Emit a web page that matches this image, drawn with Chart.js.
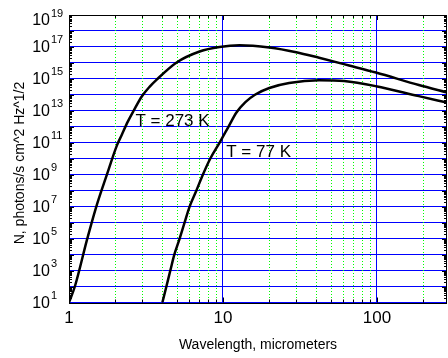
<!DOCTYPE html>
<html>
<head>
<meta charset="utf-8">
<script src="https://cdn.jsdelivr.net/npm/chart.js@4/dist/chart.umd.min.js"></script>
<style>
  html, body { margin: 0; padding: 0; background: #fff; }
  #wrap { width: 448px; height: 358px; position: relative; }
</style>
</head>
<body>
<div id="wrap"><canvas id="chart1"></canvas></div>
<script>
// wavelength (micrometers) and N
const lam273 = [1.0, 1.094, 1.308, 1.496, 1.762, 2.045, 2.203, 2.409, 2.634, 2.969, 3.345, 3.712, 5.0, 7.05, 9.49, 12.8, 20.0, 29.9, 42.1, 65.9, 98.5, 187, 285];
const n273 = [1e1, 1.08e2, 8.3e4, 8.5e6, 1e9, 6.6e10, 3.2e11, 2.1e12, 1.05e13, 7.9e13, 3.3e14, 9.1e14, 1.07e16, 5.2e16, 1.0e17, 1.29e17, 9.3e16, 4.7e16, 2.1e16, 6.9e15, 2.5e15, 4.1e14, 1.4e14];

const lam77 = [4.04, 4.29, 4.55, 4.83, 5.23, 5.63, 6.07, 6.71, 7.40, 8.26, 9.49, 10.85, 12.23, 13.98, 16.23, 20.0, 26.9, 42.1, 61.2, 98.5, 187, 285];
const n77 = [1e1, 1e2, 1e3, 1e4, 1e5, 1e6, 1e7, 1e8, 1e9, 1e10, 1e11, 1e12, 7.8e12, 3.5e13, 1.05e14, 2.7e14, 5.5e14, 8.1e14, 7.3e14, 3.5e14, 8.3e13, 3.3e13];

const xMajorTicks = [1, 10, 100];
const xTickLabels = ['1', '10', '100'];
const xMinorTicks = [2, 3, 4, 5, 6, 7, 8, 9, 20, 30, 40, 50, 60, 70, 80, 90, 200];
const yDecades = [1, 2, 3, 4, 5, 6, 7, 8, 9, 10, 11, 12, 13, 14, 15, 16, 17, 18, 19];
const yLabelExps = ['1', '3', '5', '7', '9', '11', '13', '15', '17', '19'];

const labels = [
    { text: 'T = 273 K', x: 2.7, y: 1.2e12 },
    { text: 'T = 77 K', x: 10.5, y: 1.3e10 }
];

const FONT = "'Liberation Sans', Arial, sans-serif";
const X_MIN = 1, X_MAX = 285;

function toPoints(xs, ys) {
    return xs.map((x, i) => ({ x: x, y: ys[i] }));
}

// green dotted minor grid on the x axis, under the curves
const minorGrid = {
    id: 'minorGrid',
    beforeDatasetsDraw(chart) {
        const ctx = chart.ctx;
        const a = chart.chartArea;
        const xs = chart.scales.x;
        ctx.save();
        ctx.strokeStyle = 'rgb(0,255,0)';
        ctx.lineWidth = 1;
        ctx.setLineDash([1, 2]);
        ctx.beginPath();
        xMinorTicks.forEach(v => {
            const px = Math.round(xs.getPixelForValue(v)) + 0.5;
            ctx.moveTo(px, a.top);
            ctx.lineTo(px, a.bottom);
        });
        ctx.stroke();
        ctx.restore();
    }
};

// draws the MATLAB style box, inward ticks and tick labels
const matlabAxes = {
    id: 'matlabAxes',
    afterDraw(chart) {
        const ctx = chart.ctx;
        const a = chart.chartArea;
        const xs = chart.scales.x;
        const ys = chart.scales.y;
        ctx.save();

        ctx.strokeStyle = '#000';
        ctx.lineWidth = 1;
        ctx.beginPath();
        // x ticks, top and bottom
        const xt = xMinorTicks.map(v => [v, 3]).concat([[10, 5], [100, 5]]);
        xt.forEach(([v, len]) => {
            const px = Math.round(xs.getPixelForValue(v)) + 0.5;
            ctx.moveTo(px, a.bottom); ctx.lineTo(px, a.bottom - len);
            ctx.moveTo(px, a.top); ctx.lineTo(px, a.top + len);
        });
        // y ticks, left and right
        yDecades.forEach(e => {
            if (e >= 19) return;
            for (let m = 1; m <= 9; m++) {
                const py = Math.round(ys.getPixelForValue(m * Math.pow(10, e))) + 0.5;
                const len = m === 1 ? 5 : 3;
                ctx.moveTo(a.left, py); ctx.lineTo(a.left + len, py);
                ctx.moveTo(a.right, py); ctx.lineTo(a.right - len, py);
            }
        });
        ctx.stroke();

        // box
        ctx.strokeRect(Math.round(a.left) + 0.5, Math.round(a.top) + 0.5,
            Math.round(a.right - a.left) - 1, Math.round(a.bottom - a.top));

        // x tick labels
        ctx.fillStyle = '#000';
        ctx.font = '17px ' + FONT;
        ctx.textAlign = 'center';
        ctx.textBaseline = 'middle';
        xMajorTicks.forEach((v, i) => {
            ctx.fillText(xTickLabels[i], xs.getPixelForValue(v), a.bottom + 16);
        });

        // y tick labels, 10 with raised exponent
        yLabelExps.forEach(ex => {
            const py = ys.getPixelForValue(Math.pow(10, Number(ex)));
            const cy = Math.max(py + 1, 21);
            ctx.font = '16px ' + FONT;
            ctx.textAlign = 'right';
            ctx.textBaseline = 'middle';
            ctx.fillText('10', 50, cy);
            ctx.font = '11px ' + FONT;
            ctx.textAlign = 'left';
            ctx.textBaseline = 'alphabetic';
            ctx.fillText(ex, 51, cy - 4.5);
        });

        // axis titles
        ctx.font = '14px ' + FONT;
        ctx.textAlign = 'center';
        ctx.textBaseline = 'middle';
        ctx.fillText('Wavelength, micrometers', (a.left + a.right) / 2, 345);
        ctx.save();
        ctx.translate(20, 163);
        ctx.rotate(-Math.PI / 2);
        ctx.fillText('N, photons/s cm^2 Hz^1/2', 0, 0);
        ctx.restore();

        // curve labels
        ctx.font = '17px ' + FONT;
        ctx.textAlign = 'left';
        ctx.textBaseline = 'alphabetic';
        labels.forEach(l => {
            ctx.fillText(l.text, xs.getPixelForValue(l.x), ys.getPixelForValue(l.y));
        });

        ctx.restore();
    }
};

const config1 = {
    type: 'line',
    data: {
        datasets: [
            {
                label: 'T = 273 K',
                data: toPoints(lam273, n273),
                borderColor: '#000',
                borderWidth: 2.5,
                pointRadius: 0,
                cubicInterpolationMode: 'monotone',
                fill: false
            },
            {
                label: 'T = 77 K',
                data: toPoints(lam77, n77),
                borderColor: '#000',
                borderWidth: 2.5,
                pointRadius: 0,
                cubicInterpolationMode: 'monotone',
                fill: false
            }
        ]
    },
    options: {
        responsive: false,
        animation: false,
        events: [],
        layout: { padding: { top: 15, right: 1, left: 0, bottom: 0 } },
        plugins: {
            legend: { display: false },
            tooltip: { enabled: false }
        },
        scales: {
            x: {
                type: 'logarithmic',
                min: X_MIN,
                max: X_MAX,
                afterBuildTicks: s => { s.ticks = [10, 100].map(v => ({ value: v })); },
                afterFit: s => { s.height = 55.5; },
                ticks: { display: false },
                grid: { color: '#0000ff', lineWidth: 1, drawTicks: false },
                border: { display: false }
            },
            y: {
                type: 'logarithmic',
                min: 1e1,
                max: 1e19,
                afterBuildTicks: s => { s.ticks = yDecades.map(e => ({ value: Math.pow(10, e) })); },
                afterFit: s => { s.width = 69; },
                ticks: { display: false },
                grid: { color: '#0000ff', lineWidth: 1, drawTicks: false },
                border: { display: false }
            }
        }
    },
    plugins: [minorGrid, matlabAxes]
};

const canvas1 = document.getElementById('chart1');
canvas1.width = 448;
canvas1.height = 358;
const chart1 = new Chart(canvas1.getContext('2d'), config1);
</script>
</body>
</html>
